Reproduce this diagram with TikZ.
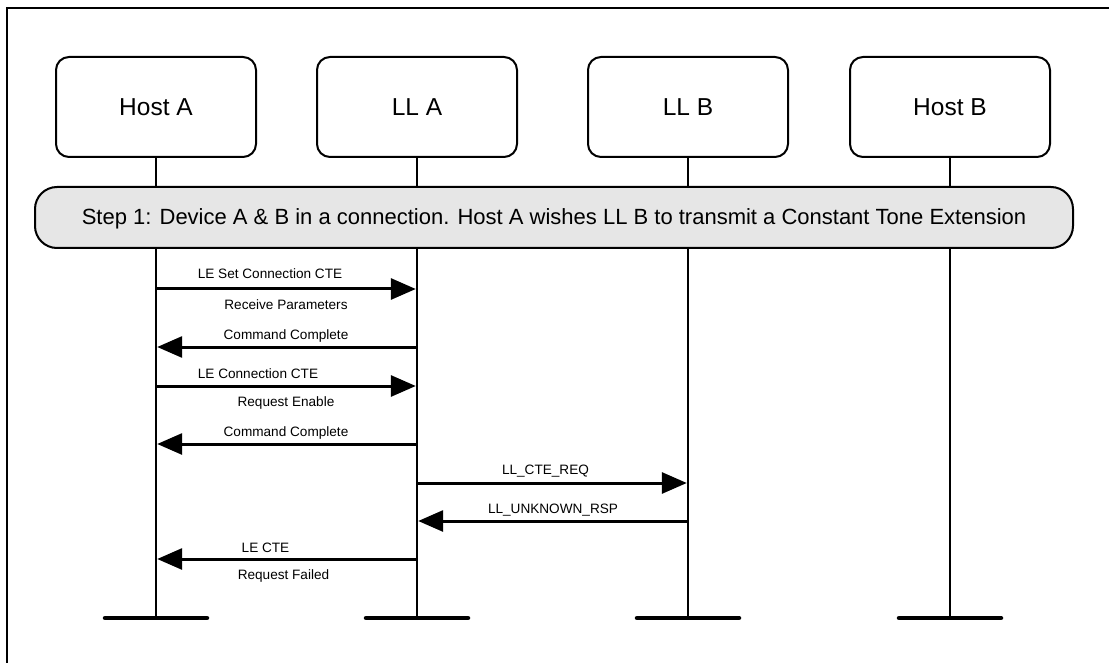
\documentclass[tikz,border=0pt]{standalone}
\usepackage{fontspec}
\setmainfont{Liberation Sans}
\usetikzlibrary{arrows.meta}
\begin{document}
\begin{tikzpicture}[x=1pt,y=1pt,
  entity/.style={draw, line width=2pt, rounded corners=13pt, minimum width=200pt, minimum height=100pt, inner sep=0pt, font=\fontsize{24.5}{28}\selectfont},
  lifeline/.style={line width=2.3pt},
  endbar/.style={line width=4.5pt, line cap=round},
  stepbar/.style={draw, line width=2pt, fill={rgb,255:red,230;green,230;blue,230}, rounded corners=22pt, minimum width=1038pt, minimum height=61pt, inner sep=0pt},
  steptext/.style={anchor=base, font=\fontsize{22}{26}\selectfont},
  msg/.style={line width=3pt, shorten >=1.2pt, -{Triangle[length=25pt,width=21pt]}},
  lbl/.style={anchor=base, inner sep=0pt, font=\fontsize{13.6}{16}\selectfont},
  frameline/.style={line width=2.3pt}
]
\useasboundingbox (0,0) rectangle (1109,-663);
\draw[frameline] (7,-663) -- (7,-8) -- (1109,-8);

% entities
\node[entity] (hostA) at (156,-107) {Host A};
\node[entity] (llA)   at (417,-107) {LL A};
\node[entity] (llB)   at (688,-107) {LL B};
\node[entity] (hostB) at (950,-107) {Host B};

% lifeline end points
\coordinate (endA) at (156,-618);
\coordinate (endLA) at (417,-618);
\coordinate (endLB) at (688,-618);
\coordinate (endB) at (950,-618);

\draw[lifeline] (hostA.south) -- (endA);
\draw[lifeline] (llA.south) -- (endLA);
\draw[lifeline] (llB.south) -- (endLB);
\draw[lifeline] (hostB.south) -- (endB);

\foreach \e in {endA,endLA,endLB,endB}{
  \draw[endbar] ([xshift=-51pt]\e) -- ([xshift=51pt]\e);
}

% step bar
\node[stepbar] (step) at (554,-217.5) {};
\node[steptext] (steplbl) at (554,-225) {Step 1: Device A \& B in a connection. Host A wishes LL B to transmit a Constant Tone Extension};

% message rows
\coordinate (r1) at (0,-289);
\coordinate (r2) at (0,-347);
\coordinate (r3) at (0,-386);
\coordinate (r4) at (0,-444);
\coordinate (r5) at (0,-483);
\coordinate (r6) at (0,-521);
\coordinate (r7) at (0,-559);

\draw[msg] (hostA |- r1) -- (llA |- r1);
\draw[msg] (llA |- r2) -- (hostA |- r2);
\draw[msg] (hostA |- r3) -- (llA |- r3);
\draw[msg] (llA |- r4) -- (hostA |- r4);
\draw[msg] (llA |- r5) -- (llB |- r5);
\draw[msg] (llB |- r6) -- (llA |- r6);
\draw[msg] (llA |- r7) -- (hostA |- r7);

% labels
\node[lbl] (l1a) at (270,-279) {LE Set Connection CTE};
\node[lbl] (l1b) at (286,-309) {Receive Parameters};
\node[lbl] (l2)  at (286,-339) {Command Complete};
\node[lbl] (l3a) at (258,-378) {LE Connection CTE};
\node[lbl] (l3b) at (286,-406) {Request Enable};
\node[lbl] (l4)  at (286,-436) {Command Complete};
\node[lbl] (l5)  at (545.5,-474) {LL\_CTE\_REQ};
\node[lbl] (l6)  at (553,-513) {LL\_UNKNOWN\_RSP};
\node[lbl] (l7a) at (265.5,-552) {LE CTE};
\node[lbl] (l7b) at (283.5,-579) {Request Failed};
\end{tikzpicture}
\end{document}
